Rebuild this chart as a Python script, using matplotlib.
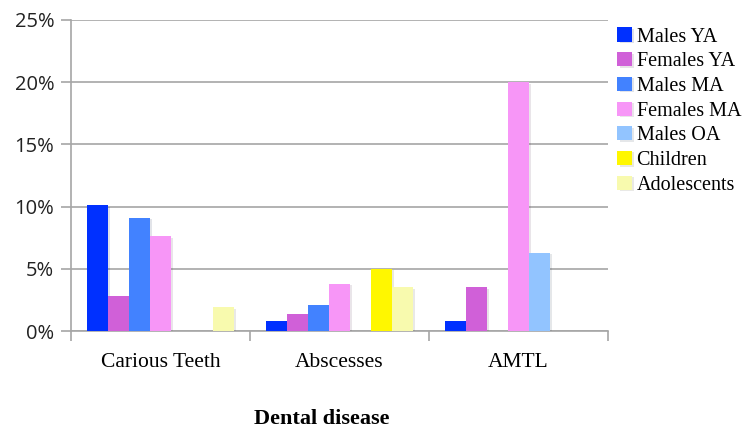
import numpy as np
import matplotlib.pyplot as plt
import matplotlib.patheffects as pe
from matplotlib.ticker import FixedLocator, PercentFormatter

categories = ["Carious Teeth", "Abscesses", "AMTL"]
groups = ["Males YA", "Females YA", "Males MA", "Females MA",
          "Males OA", "Children", "Adolescents"]

# percent values per group, in category order
males_ya = [10.1, 0.8, 0.8]
females_ya = [2.8, 1.4, 3.5]
males_ma = [9.1, 2.1, 0.0]
females_ma = [7.6, 3.8, 20.0]
males_oa = [0.0, 0.0, 6.3]
children = [0.0, 5.0, 0.0]
adolescents = [1.9, 3.5, 0.0]

series = [males_ya, females_ya, males_ma, females_ma, males_oa, children, adolescents]
colors = ["#0030FF", "#D060D8", "#4282FF", "#F796F7", "#92C4FF", "#FFF700", "#F8FAAE"]

fig = plt.figure(figsize=(7.47, 4.29), dpi=100)
ax = fig.add_axes([0.095, 0.2284, 0.719, 0.725])

x = np.arange(len(categories))
w = 0.1173
shadow = [pe.SimplePatchShadow(offset=(1.5, -1), alpha=0.12), pe.Normal()]
for i, (vals, name, c) in enumerate(zip(series, groups, colors)):
    bars = ax.bar(x + (i - 3) * w, vals, width=w, color=c, label=name,
                  linewidth=0, zorder=3)
    for b in bars:
        b.set_path_effects(shadow)

ax.set_xlim(-0.5, 2.5)
ax.set_ylim(0, 25)
ax.set_yticks(np.arange(0, 26, 5))
ax.yaxis.set_major_formatter(PercentFormatter(decimals=0))
ax.grid(axis="y", color="#A6A6A6", linewidth=1.2, zorder=0)

ax.set_xticks(x)
ax.set_xticklabels(categories, family="Liberation Serif", fontsize=15.5)
ax.xaxis.set_minor_locator(FixedLocator([-0.5, 0.5, 1.5, 2.5]))
ax.tick_params(axis="x", which="major", length=0, pad=16)
ax.tick_params(axis="x", which="minor", length=7, color="#A6A6A6", width=1.2)
ax.tick_params(axis="y", length=7, color="#A6A6A6", width=1.2, labelsize=14.5, pad=5)
for lab in ax.get_yticklabels():
    lab.set_family("Open Sans")
    lab.set_color("#222222")

for s in ["top", "right"]:
    ax.spines[s].set_visible(False)
for s in ["left", "bottom"]:
    ax.spines[s].set_color("#A6A6A6")
    ax.spines[s].set_linewidth(1.2)

ax.set_xlabel("Dental disease", family="Liberation Serif", fontsize=16,
              fontweight="bold")
ax.xaxis.set_label_coords(0.467, -0.252)

ax.legend(loc="upper left", bbox_to_anchor=(0.995, 1.015), frameon=False,
          prop={"family": "Liberation Serif", "size": 14.5},
          handlelength=0.7, handleheight=0.7, handletextpad=0.25,
          labelspacing=0.28, borderaxespad=0.2)

fig.savefig("out.png", dpi=100)
